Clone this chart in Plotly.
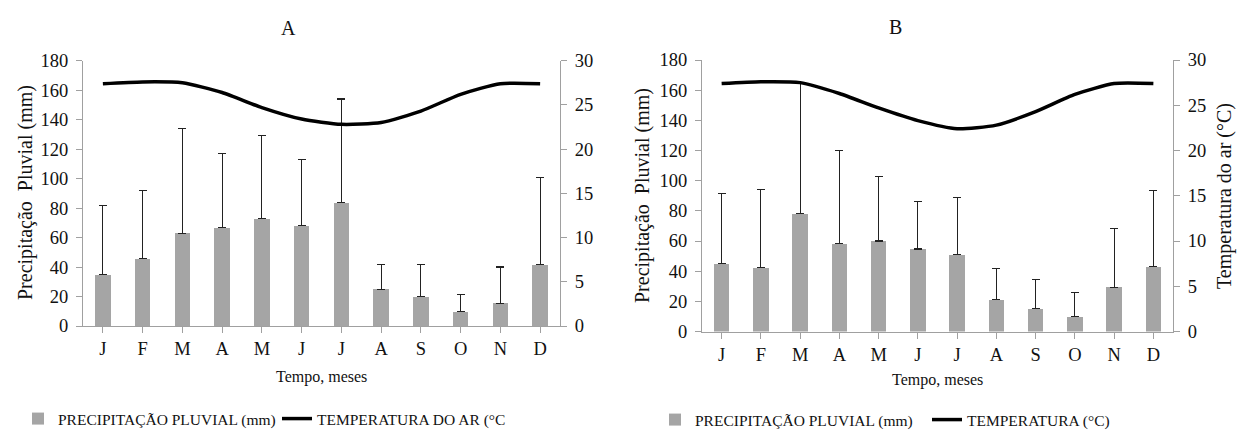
import plotly.graph_objects as go

month_labels = ["J", "F", "M", "A", "M", "J", "J", "A", "S", "O", "N", "D"]

# Panel A
precip_a = [35, 46, 63, 67, 73, 68, 83.5, 25, 20, 9.7, 15.5, 41.5]
precip_a_upper = [82, 92, 134, 117, 129, 113, 154, 41.5, 41.5, 21.5, 40, 101]
temp_a = [27.4, 27.6, 27.5, 26.4, 24.7, 23.4, 22.8, 23.0, 24.3, 26.2, 27.4, 27.4]

# Panel B
precip_b = [45, 42.3, 78.2, 58.3, 60, 54.7, 51, 21.2, 15.2, 9.8, 29.2, 43]
precip_b_upper = [91.7, 94, 165, 120, 103, 86, 89, 41.8, 34.6, 25.8, 68, 93.5]
temp_b = [27.4, 27.6, 27.5, 26.3, 24.7, 23.3, 22.4, 22.8, 24.3, 26.2, 27.4, 27.4]

BAR_COLOR = "#A5A5A5"
AXIS_COLOR = "#A0A0A0"
TEXT_COLOR = "#111111"
FONT = "Liberation Serif"

fig = go.Figure()

def add_panel(xa, ya_left, ya_right, precip, upper, temp, legend, temp_name):
    fig.add_trace(go.Bar(
        x=list(range(12)), y=precip, xaxis=xa, yaxis=ya_left,
        marker=dict(color=BAR_COLOR, line=dict(width=0)), width=0.39,
        error_y=dict(type="data", symmetric=False,
                     array=[u - p for u, p in zip(upper, precip)],
                     arrayminus=[0] * 12, color="#222222", thickness=1.1, width=4),
        name="PRECIPITAÇÃO PLUVIAL (mm)", legend=legend,
    ))
    fig.add_trace(go.Scatter(
        x=list(range(12)), y=temp, xaxis=xa, yaxis=ya_right, mode="lines",
        line=dict(color="black", width=3.5, shape="spline", smoothing=0.6),
        name=temp_name, legend=legend,
    ))

add_panel("x", "y", "y2", precip_a, precip_a_upper, temp_a, "legend", "TEMPERATURA DO AR (°C")
add_panel("x2", "y3", "y4", precip_b, precip_b_upper, temp_b, "legend2", "TEMPERATURA (°C)")

tickfont = dict(family=FONT, size=18.5, color=TEXT_COLOR)

common = dict(showline=True, linecolor=AXIS_COLOR, linewidth=1,
              ticks="outside", ticklen=6, tickcolor=AXIS_COLOR, tickwidth=1,
              showgrid=False, zeroline=False, tickfont=tickfont, automargin=False)

def xaxis_cfg(domain, anchor):
    return dict(domain=domain, anchor=anchor, range=[-0.5, 11.5],
                tickmode="array", tickvals=list(range(12)), ticktext=month_labels,
                tickson="boundaries", **common)

def yleft_cfg(domain, anchor):
    return dict(domain=domain, anchor=anchor, range=[0, 180], tickmode="array",
                tickvals=list(range(0, 181, 20)), ticklabelstandoff=4, **common)

def yright_cfg(overlay, anchor):
    return dict(overlaying=overlay, anchor=anchor, side="right", range=[0, 30],
                tickmode="array", tickvals=list(range(0, 31, 5)), ticklabelstandoff=4, **common)

H = 437.0
W = 1237.0
legend_font = dict(family=FONT, size=15.5, color=TEXT_COLOR)
fig.update_layout(
    template="none",
    width=1237, height=437,
    margin=dict(l=0, r=0, t=0, b=0, pad=0, autoexpand=False),
    paper_bgcolor="white", plot_bgcolor="white",
    font=dict(family=FONT, color=TEXT_COLOR),
    bargap=0,
    xaxis=xaxis_cfg([83 / W, 560 / W], "y"),
    yaxis=yleft_cfg([(H - 326) / H, (H - 60.7) / H], "x"),
    yaxis2=yright_cfg("y", "x"),
    xaxis2=xaxis_cfg([702 / W, 1173 / W], "y3"),
    yaxis3=yleft_cfg([(H - 331.5) / H, (H - 60) / H], "x2"),
    yaxis4=yright_cfg("y3", "x2"),
    legend=dict(orientation="h", x=18 / W, y=(H - 419) / H, xanchor="left", yanchor="middle",
                font=legend_font, itemwidth=30, entrywidth=214, entrywidthmode="pixels",
                bgcolor="rgba(0,0,0,0)", borderwidth=0, tracegroupgap=0),
    legend2=dict(orientation="h", x=655 / W, y=(H - 420) / H, xanchor="left", yanchor="middle",
                 font=legend_font, itemwidth=30, entrywidth=227, entrywidthmode="pixels",
                 bgcolor="rgba(0,0,0,0)", borderwidth=0, tracegroupgap=0),
    showlegend=True,
)

annotations = [
    dict(text="A", x=288 / W, y=(H - 28) / H, font=dict(size=20)),
    dict(text="B", x=895 / W, y=(H - 27) / H, font=dict(size=20)),
    dict(text="Tempo, meses", x=321 / W, y=(H - 377) / H, font=dict(size=16)),
    dict(text="Tempo, meses", x=937 / W, y=(H - 380) / H, font=dict(size=16)),
    dict(text="Precipitação  Pluvial (mm)", x=25 / W, y=(H - 193) / H, textangle=-90, font=dict(size=20)),
    dict(text="Precipitação  Pluvial (mm)", x=642 / W, y=(H - 196) / H, textangle=-90, font=dict(size=20)),
    dict(text="Temperatura do ar (°C)", x=1224 / W, y=(H - 196) / H, textangle=-90, font=dict(size=20)),
]
for a in annotations:
    a.update(xref="paper", yref="paper", showarrow=False, xanchor="center", yanchor="middle")
    a["font"].update(family=FONT, color=TEXT_COLOR)
fig.update_layout(annotations=annotations)

fig.write_html("out.html", config={"displayModeBar": False},
               post_script="document.body.style.margin='0';document.body.style.padding='0';")
